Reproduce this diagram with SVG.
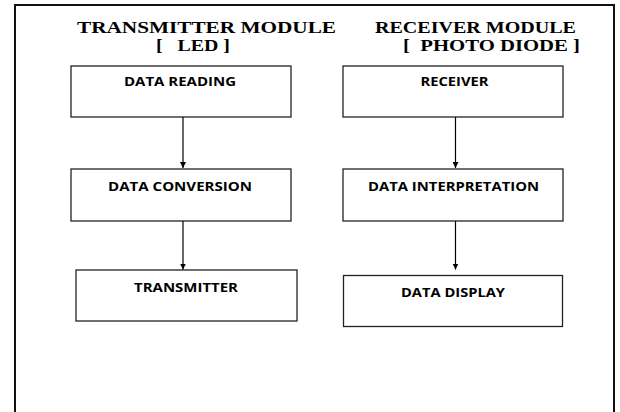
<svg xmlns="http://www.w3.org/2000/svg" width="620" height="412" viewBox="0 0 620 412">
  <defs>
    <marker id="arrow" viewBox="0 0 6 6" refX="6" refY="3" markerWidth="6" markerHeight="6" markerUnits="userSpaceOnUse" orient="auto">
      <path d="M0,0 L6,3 L0,6 z" fill="#000"/>
    </marker>
    <style>
      .frame { fill: none; stroke: #111; stroke-width: 2; }
      .box { fill: #fff; stroke: #222; stroke-width: 1.3; }
      .title { font-family: "Liberation Serif", "Times New Roman", serif; font-weight: bold; font-size: 17px; fill: #000; }
      .label { font-family: "Open Sans", "Liberation Sans", sans-serif; font-weight: bold; font-size: 12.5px; fill: #000; }
      .conn { stroke: #000; stroke-width: 1.2; fill: none; marker-end: url(#arrow); }
    </style>
  </defs>

  <rect width="620" height="412" fill="#fff"/>

  <!-- outer frame, open at the bottom -->
  <path class="frame" d="M15,412 L15,5 L614,5 L614,412"/>

  <!-- column headings -->
  <g id="headings">
    <text class="title" x="77" y="33" textLength="259" lengthAdjust="spacingAndGlyphs">TRANSMITTER MODULE</text>
    <text class="title" x="156" y="51" textLength="74" lengthAdjust="spacingAndGlyphs" xml:space="preserve">[   LED ]</text>
    <text class="title" x="375" y="33" textLength="201" lengthAdjust="spacingAndGlyphs">RECEIVER MODULE</text>
    <text class="title" x="403" y="51" textLength="177" lengthAdjust="spacingAndGlyphs" xml:space="preserve">[  PHOTO DIODE ]</text>
  </g>

  <!-- transmitter side -->
  <g id="data-reading">
    <rect class="box" x="71" y="66" width="220" height="51"/>
    <text class="label" x="124" y="86" textLength="112" lengthAdjust="spacingAndGlyphs">DATA READING</text>
  </g>
  <g id="data-conversion">
    <rect class="box" x="71" y="169" width="220" height="52"/>
    <text class="label" x="108" y="190.5" textLength="144" lengthAdjust="spacingAndGlyphs">DATA CONVERSION</text>
  </g>
  <g id="transmitter">
    <rect class="box" x="76" y="270" width="221" height="51"/>
    <text class="label" x="134" y="291.5" textLength="104" lengthAdjust="spacingAndGlyphs">TRANSMITTER</text>
  </g>

  <!-- receiver side -->
  <g id="receiver">
    <rect class="box" x="343" y="66" width="220" height="51"/>
    <text class="label" x="420.5" y="86" textLength="68" lengthAdjust="spacingAndGlyphs">RECEIVER</text>
  </g>
  <g id="data-interpretation">
    <rect class="box" x="343" y="169" width="220" height="52"/>
    <text class="label" x="368" y="190.5" textLength="171" lengthAdjust="spacingAndGlyphs">DATA INTERPRETATION</text>
  </g>
  <g id="data-display">
    <rect class="box" x="343.5" y="275.5" width="219" height="51"/>
    <text class="label" x="401" y="297" textLength="104" lengthAdjust="spacingAndGlyphs">DATA DISPLAY</text>
  </g>

  <g id="connectors">
    <line class="conn" x1="183" y1="117" x2="183" y2="168"/>
    <line class="conn" x1="183" y1="221" x2="183" y2="269.5"/>
    <line class="conn" x1="455.5" y1="117" x2="455.5" y2="168"/>
    <line class="conn" x1="455.5" y1="221" x2="455.5" y2="269.5"/>
  </g>
</svg>
